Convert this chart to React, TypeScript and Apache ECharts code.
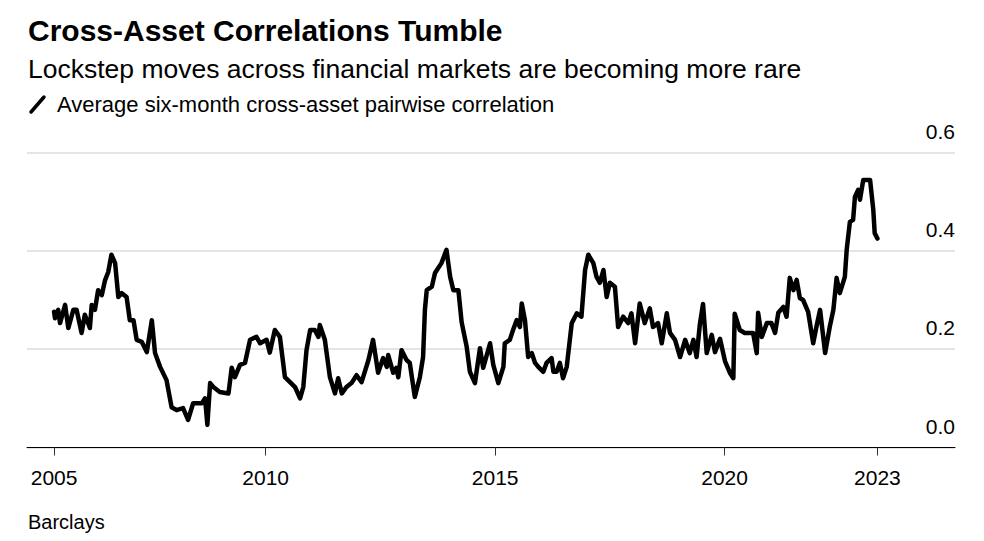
import React, { useEffect, useRef } from "react";
import * as echarts from "echarts";

const title = "Cross-Asset Correlations Tumble";
const subtitle = "Lockstep moves across financial markets are becoming more rare";
const legendLabel = "Average six-month cross-asset pairwise correlation";
const source = "Barclays";

// time in decimal years
const years: number[] = [
  2005.39, 2005.41, 2005.48, 2005.52, 2005.63, 2005.70, 2005.81, 2005.88, 2005.99, 2006.06,
  2006.17, 2006.21, 2006.28, 2006.35, 2006.43, 2006.50, 2006.57, 2006.64, 2006.72, 2006.79,
  2006.86, 2006.97, 2007.04, 2007.12, 2007.19, 2007.30, 2007.41, 2007.52, 2007.59, 2007.70,
  2007.84, 2007.95, 2008.06, 2008.20, 2008.31, 2008.42, 2008.61, 2008.68, 2008.73, 2008.79,
  2008.86, 2009.00, 2009.19, 2009.26, 2009.33, 2009.44, 2009.55, 2009.66, 2009.80, 2009.88,
  2010.02, 2010.09, 2010.20, 2010.31, 2010.42, 2010.53, 2010.64, 2010.75, 2010.82, 2010.89,
  2010.97, 2011.07, 2011.15, 2011.18, 2011.29, 2011.40, 2011.51, 2011.58, 2011.66, 2011.76,
  2011.87, 2011.98, 2012.09, 2012.24, 2012.34, 2012.45, 2012.56, 2012.64, 2012.67, 2012.78,
  2012.85, 2012.89, 2012.96, 2013.07, 2013.14, 2013.25, 2013.36, 2013.43, 2013.47, 2013.51,
  2013.62, 2013.69, 2013.83, 2013.94, 2014.02, 2014.09, 2014.20, 2014.27, 2014.38, 2014.45,
  2014.56, 2014.67, 2014.74, 2014.89, 2014.96, 2015.07, 2015.18, 2015.21, 2015.32, 2015.39,
  2015.47, 2015.54, 2015.58, 2015.65, 2015.72, 2015.80, 2015.87, 2015.94, 2016.05, 2016.12,
  2016.23, 2016.27, 2016.34, 2016.41, 2016.48, 2016.56, 2016.67, 2016.78, 2016.88, 2016.96,
  2017.03, 2017.14, 2017.21, 2017.28, 2017.36, 2017.43, 2017.50, 2017.61, 2017.68, 2017.79,
  2017.90, 2017.97, 2018.05, 2018.15, 2018.26, 2018.37, 2018.44, 2018.55, 2018.63, 2018.74,
  2018.81, 2018.92, 2019.03, 2019.14, 2019.24, 2019.32, 2019.39, 2019.46, 2019.53, 2019.61,
  2019.72, 2019.79, 2019.90, 2020.01, 2020.12, 2020.19, 2020.22, 2020.33, 2020.44, 2020.62,
  2020.70, 2020.73, 2020.81, 2020.92, 2021.02, 2021.10, 2021.17, 2021.28, 2021.35, 2021.42,
  2021.50, 2021.57, 2021.64, 2021.71, 2021.82, 2021.93, 2022.00, 2022.08, 2022.19, 2022.29,
  2022.37, 2022.44, 2022.51, 2022.62, 2022.66, 2022.73, 2022.80, 2022.84, 2022.91, 2022.95,
  2023.02, 2023.17, 2023.24, 2023.27, 2023.33,
];

const correlation: number[] = [
  0.276, 0.263, 0.280, 0.253, 0.290, 0.243, 0.280, 0.280, 0.233, 0.270,
  0.243, 0.290, 0.280, 0.320, 0.310, 0.340, 0.357, 0.392, 0.375, 0.306,
  0.314, 0.306, 0.259, 0.259, 0.219, 0.215, 0.194, 0.259, 0.192, 0.164,
  0.137, 0.082, 0.076, 0.080, 0.056, 0.090, 0.090, 0.100, 0.046, 0.131,
  0.123, 0.113, 0.110, 0.162, 0.143, 0.168, 0.172, 0.219, 0.225, 0.212,
  0.219, 0.193, 0.239, 0.225, 0.143, 0.133, 0.123, 0.100, 0.123, 0.198,
  0.239, 0.239, 0.225, 0.249, 0.219, 0.143, 0.110, 0.141, 0.110, 0.123,
  0.131, 0.147, 0.133, 0.178, 0.219, 0.152, 0.182, 0.164, 0.188, 0.152,
  0.162, 0.143, 0.198, 0.178, 0.172, 0.103, 0.143, 0.184, 0.280, 0.320,
  0.327, 0.355, 0.375, 0.402, 0.347, 0.320, 0.320, 0.255, 0.205, 0.154,
  0.131, 0.202, 0.162, 0.212, 0.168, 0.131, 0.164, 0.212, 0.219, 0.239,
  0.259, 0.245, 0.293, 0.259, 0.184, 0.192, 0.172, 0.164, 0.154, 0.172,
  0.182, 0.154, 0.154, 0.172, 0.141, 0.164, 0.253, 0.273, 0.266, 0.361,
  0.392, 0.375, 0.347, 0.335, 0.361, 0.306, 0.335, 0.327, 0.245, 0.266,
  0.253, 0.273, 0.212, 0.293, 0.253, 0.283, 0.245, 0.253, 0.212, 0.273,
  0.233, 0.219, 0.184, 0.219, 0.192, 0.219, 0.184, 0.250, 0.292, 0.192,
  0.229, 0.194, 0.221, 0.175, 0.151, 0.141, 0.272, 0.239, 0.233, 0.233,
  0.192, 0.274, 0.225, 0.253, 0.253, 0.233, 0.274, 0.286, 0.266, 0.345,
  0.320, 0.341, 0.304, 0.300, 0.276, 0.212, 0.245, 0.280, 0.192, 0.245,
  0.280, 0.345, 0.314, 0.347, 0.402, 0.459, 0.463, 0.510, 0.524, 0.504,
  0.544, 0.544, 0.483, 0.436, 0.425,
];

const xTickValues: number[] = [2005.39, 2010, 2015, 2020, 2023.33];
const xTickLabels: string[] = ["2005", "2010", "2015", "2020", "2023"];
const yTicks: number[] = [0, 0.2, 0.4, 0.6];

const FONT = "'Liberation Sans', Arial, Helvetica, sans-serif";

export default function App() {
  const ref = useRef<HTMLDivElement>(null);

  useEffect(() => {
    if (!ref.current) return;
    const chart = echarts.init(ref.current, undefined, { renderer: "svg" });
    const seriesData = years.map((y, i) => [y, correlation[i]]);

    chart.setOption({
      animation: false,
      backgroundColor: "#ffffff",
      textStyle: { fontFamily: FONT },
      grid: { left: 27, right: 29, top: 152.5, bottom: 541 - 447.5, containLabel: false },
      xAxis: {
        type: "value",
        min: 2004.8,
        max: 2025.02,
        axisLine: { show: true, lineStyle: { color: "#000", width: 1 } },
        axisTick: {
          show: true,
          length: 8,
          lineStyle: { color: "#333", width: 1 },
          customValues: xTickValues,
        },
        axisLabel: {
          show: true,
          customValues: xTickValues,
          margin: 19,
          color: "#000",
          fontSize: 21,
          fontFamily: FONT,
          formatter: (v: number) => {
            const idx = xTickValues.findIndex((t) => Math.abs(t - v) < 0.01);
            return idx >= 0 ? xTickLabels[idx] : "";
          },
        },
        splitLine: { show: false },
      },
      yAxis: {
        type: "value",
        position: "right",
        min: yTicks[0],
        max: yTicks[yTicks.length - 1],
        interval: 0.2,
        axisLine: { show: false },
        axisTick: { show: false },
        splitLine: { show: true, lineStyle: { color: "#dcdcdc", width: 1.5 } },
        axisLabel: {
          inside: true,
          margin: 0,
          color: "#000",
          fontSize: 21,
          fontFamily: FONT,
          verticalAlign: "bottom",
          padding: [0, 0, 11, 0],
          formatter: (v: number) => v.toFixed(1),
        },
      },
      series: [
        {
          type: "line",
          data: seriesData,
          showSymbol: false,
          symbol: "none",
          lineStyle: { color: "#000", width: 4.5, join: "round", cap: "round" },
          z: 5,
        },
      ],
      graphic: [
        {
          type: "text",
          left: 28,
          top: 15,
          style: { text: title, font: `bold 30px ${FONT}`, fill: "#000" },
        },
        {
          type: "text",
          left: 28,
          top: 55,
          style: { text: subtitle, font: `26.5px ${FONT}`, fill: "#000" },
        },
        {
          type: "line",
          shape: { x1: 31, y1: 112, x2: 44, y2: 97 },
          style: { stroke: "#000", lineWidth: 3.5, lineCap: "round" },
        },
        {
          type: "text",
          left: 57,
          top: 93,
          style: { text: legendLabel, font: `22px ${FONT}`, fill: "#000" },
        },
        {
          type: "text",
          left: 28,
          top: 512,
          style: { text: source, font: `20px ${FONT}`, fill: "#000" },
        },
      ],
    });

    return () => chart.dispose();
  }, []);

  return (
    <div
      ref={ref}
      style={{ position: "fixed", left: 0, top: 0, width: 984, height: 541 }}
    />
  );
}
